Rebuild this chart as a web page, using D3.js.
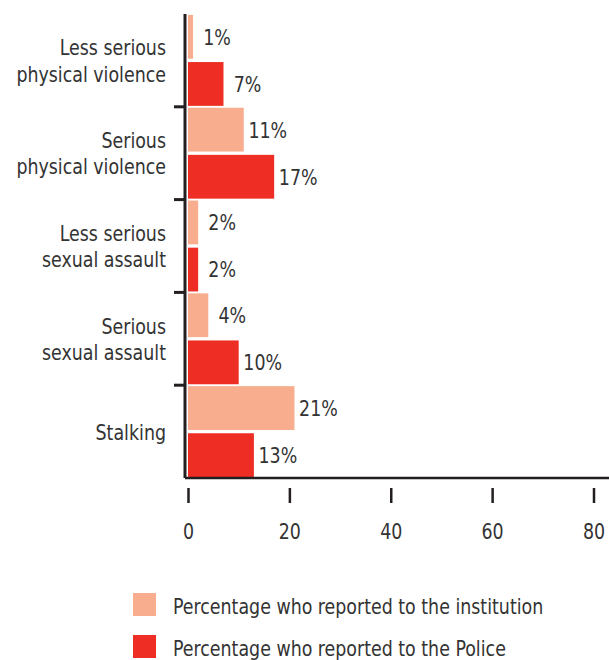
<!DOCTYPE html>
<html>
<head>
<meta charset="utf-8">
<script src="https://cdn.jsdelivr.net/npm/d3@7"></script>
<style>
  body { margin: 0; background: #fff; }
  text { font-family: "Liberation Sans Narrow", "DejaVu Sans Condensed", sans-serif; fill: #333; }
</style>
</head>
<body>
<div class="canva"></div>
<script>
// data
const categories = [
  ['Less serious', 'physical violence'],
  ['Serious', 'physical violence'],
  ['Less serious', 'sexual assault'],
  ['Serious', 'sexual assault'],
  ['Stalking']
]
const institution = [1, 11, 2, 4, 21]
const police = [7, 17, 2, 10, 13]
const seriesNames = ['Percentage who reported to the institution', 'Percentage who reported to the Police']
const xTicks = [0, 20, 40, 60, 80]

const colors = ['#f7ad8e', '#ee2e24']
const squeeze = 0.88 // the original font is narrower than anything installed

// narrow a text horizontally around its anchor x
function narrow(sel, ax) {
    sel.attr('transform', function(d, i) {
        const a = typeof ax === 'function' ? ax(d, i) : ax
        return `translate(${a},0) scale(${squeeze},1) translate(${-a},0)`
    })
}

const svg = d3.select('.canva').append('svg')
    .attr('width', 609)
    .attr('height', 660)

const keys = categories.map((d, i) => i)
const x = d3.scaleLinear().domain([0, 80]).range([188, 593.5])
const y = d3.scaleBand().domain(keys).range([14, 478])
const sub = d3.scaleBand().domain([0, 1]).range([0, y.bandwidth()]).paddingInner(0.07).paddingOuter(0.02)

const rows = []
keys.forEach(i => {
    rows.push({cat: i, s: 0, v: institution[i]})
    rows.push({cat: i, s: 1, v: police[i]})
})

// bars
svg.selectAll('rect.bar')
    .data(rows)
    .enter().append('rect')
    .attr('class', 'bar')
    .attr('x', x(0))
    .attr('y', d => y(d.cat) + sub(d.s))
    .attr('width', d => x(d.v) - x(0))
    .attr('height', sub.bandwidth())
    .attr('fill', d => colors[d.s])

// value labels
svg.selectAll('text.val')
    .data(rows)
    .enter().append('text')
    .attr('class', 'val')
    .attr('x', d => x(d.v) + 24)
    .attr('y', d => y(d.cat) + sub(d.s) + sub.bandwidth() / 2)
    .attr('dy', '0.36em')
    .attr('text-anchor', 'middle')
    .attr('font-size', 22)
    .text(d => d.v + '%')
    .call(narrow, d => x(d.v) + 24)

// y axis line + category separators
svg.append('line')
    .attr('x1', 185).attr('x2', 185)
    .attr('y1', y.range()[0]).attr('y2', y.range()[1])
    .attr('stroke', '#231f20').attr('stroke-width', 3)

svg.selectAll('line.sep')
    .data(keys.slice(1))
    .enter().append('line')
    .attr('class', 'sep')
    .attr('x1', 174).attr('x2', 186)
    .attr('y1', d => y(d)).attr('y2', d => y(d))
    .attr('stroke', '#231f20').attr('stroke-width', 3)

// category labels
const cl = svg.selectAll('text.cat')
    .data(keys)
    .enter().append('text')
    .attr('class', 'cat')
    .attr('text-anchor', 'end')
    .attr('font-size', 22)
    .attr('y', d => y(d) + y.bandwidth() / 2)
    .call(narrow, 166)
cl.selectAll('tspan')
    .data(d => categories[d].map((t, j) => ({t, j, n: categories[d].length})))
    .enter().append('tspan')
    .attr('x', 166)
    .attr('dy', d => d.j === 0 ? (0.36 - (d.n - 1) * 0.6) + 'em' : '1.2em')
    .text(d => d.t)

// x axis line
svg.append('line')
    .attr('x1', 185).attr('x2', 609)
    .attr('y1', 478).attr('y2', 478)
    .attr('stroke', '#231f20').attr('stroke-width', 2.5)

// x ticks (detached below the axis)
const xa = svg.append('g')
    .attr('transform', 'translate(0,488)')
    .call(d3.axisBottom(x).tickValues(xTicks).tickSize(15).tickPadding(20))
xa.select('.domain').remove()
xa.selectAll('.tick line').attr('stroke', '#231f20').attr('stroke-width', 2.5)
xa.selectAll('.tick text')
    .attr('font-size', 22)
    .attr('font-family', null)
    .attr('fill', '#333')
    .call(narrow, 0)

// legend
const lg = svg.selectAll('g.leg')
    .data(seriesNames)
    .enter().append('g')
    .attr('class', 'leg')
    .attr('transform', (d, i) => `translate(133,${593 + i * 42})`)
lg.append('rect')
    .attr('width', 23).attr('height', 23)
    .attr('fill', (d, i) => colors[i])
lg.append('text')
    .attr('x', 40).attr('y', 21)
    .attr('font-size', 22)
    .text(d => d)
    .call(narrow, 40)
</script>
</body>
</html>
